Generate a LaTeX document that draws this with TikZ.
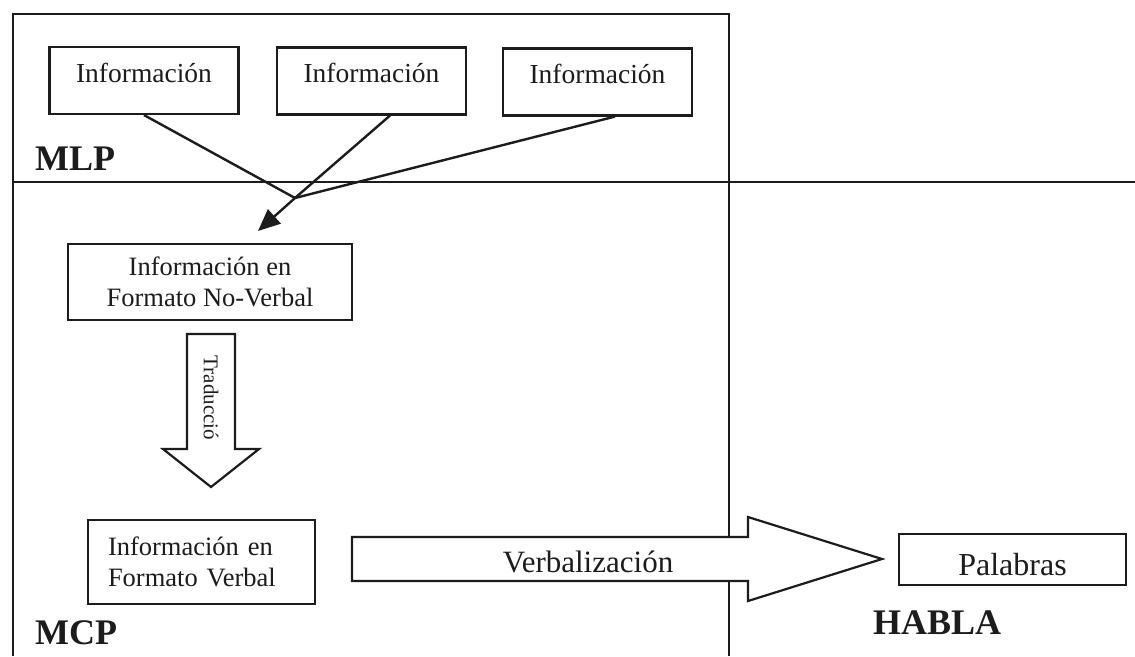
\documentclass[tikz,border=0pt]{standalone}
\usepackage{fontspec}
\setmainfont{Liberation Serif}
\usetikzlibrary{arrows.meta}
\definecolor{ink}{HTML}{1C1C1C}
\begin{document}
\begin{tikzpicture}[x=1pt,y=-1pt,
  frame/.style={draw=ink, line width=2.9pt},
  textbox/.style={draw=ink, line width=2.1pt, inner sep=0pt, text=ink},
  infobox/.style={textbox, minimum width=189pt, text height=35pt, text depth=32pt,
    font=\fontsize{27.5}{32}\selectfont},
  twoline/.style={textbox, font=\fontsize{26.5}{31}\selectfont},
  link/.style={draw=ink, line width=2.4pt},
  block/.style={draw=ink, fill=white, line width=2.2pt, line join=miter},
  region/.style={inner sep=0pt, text=ink, font=\bfseries\fontsize{36}{40}\selectfont},
  caption/.style={inner sep=0pt, text=ink}]
\useasboundingbox (0,0) rectangle (1135,656);
\fill[white] (0,0) rectangle (1135,656);

% region frame: MLP above, MCP below left, HABLA below right
\draw[frame] (13,656) -- (13,14) -- (729,14) -- (729,656);
\draw[frame] (13,182) -- (1135,182);

% long-term memory items
\node[infobox] (b1) at (144,80.5) {Información};
\node[infobox] (b2) at (371.5,81) {Información};
\node[infobox] (b3) at (597.5,82) {Información};
\node[region, anchor=base west] (mlp) at (35,170) {MLP};

% retrieval into short-term memory
\coordinate (J) at (295,198);
\coordinate (T) at (258,231);
\draw[link] (b1.south) -- (J);
\draw[link] ([xshift=18.5pt]b2.south) -- (J);
\draw[link] ([xshift=17.5pt]b3.south) -- (J);
\draw[link, -{Triangle[length=22pt,width=19pt]}] (J) -- (T);

\node[twoline, align=center, minimum width=284pt, minimum height=76pt] (nv) at (210,282)
  {Información en\\Formato No-Verbal};

% translation arrow
\draw[block] (187,334) -- (235,334) -- (235,449) -- (259,449) -- (211,487)
  -- (163,449) -- (187,449) -- cycle;
\node[caption, rotate=-90, font=\fontsize{21}{24}\selectfont] (trad) at (211,398) {Traducció};

\node[twoline, align=left, text width=187pt, inner xsep=20pt, minimum height=84pt] (vb)
  at (201.5,562) {Información en\\Formato Verbal};
\node[region, anchor=base west] (mcp) at (35,644) {MCP};

% verbalization arrow into speech
\draw[block] (352,537) -- (748,537) -- (748,517) -- (882,559) -- (748,601)
  -- (748,581) -- (352,581) -- cycle;
\node[caption, anchor=base, font=\fontsize{31}{34}\selectfont] (verb) at (588,572) {Verbalización};

\node[textbox, minimum width=227pt, text height=41pt, text depth=10pt,
  font=\fontsize{32}{36}\selectfont] (pal) at (1012.5,559.5) {Palabras};
\node[region, anchor=base] (habla) at (937,634) {HABLA};
\end{tikzpicture}
\end{document}
